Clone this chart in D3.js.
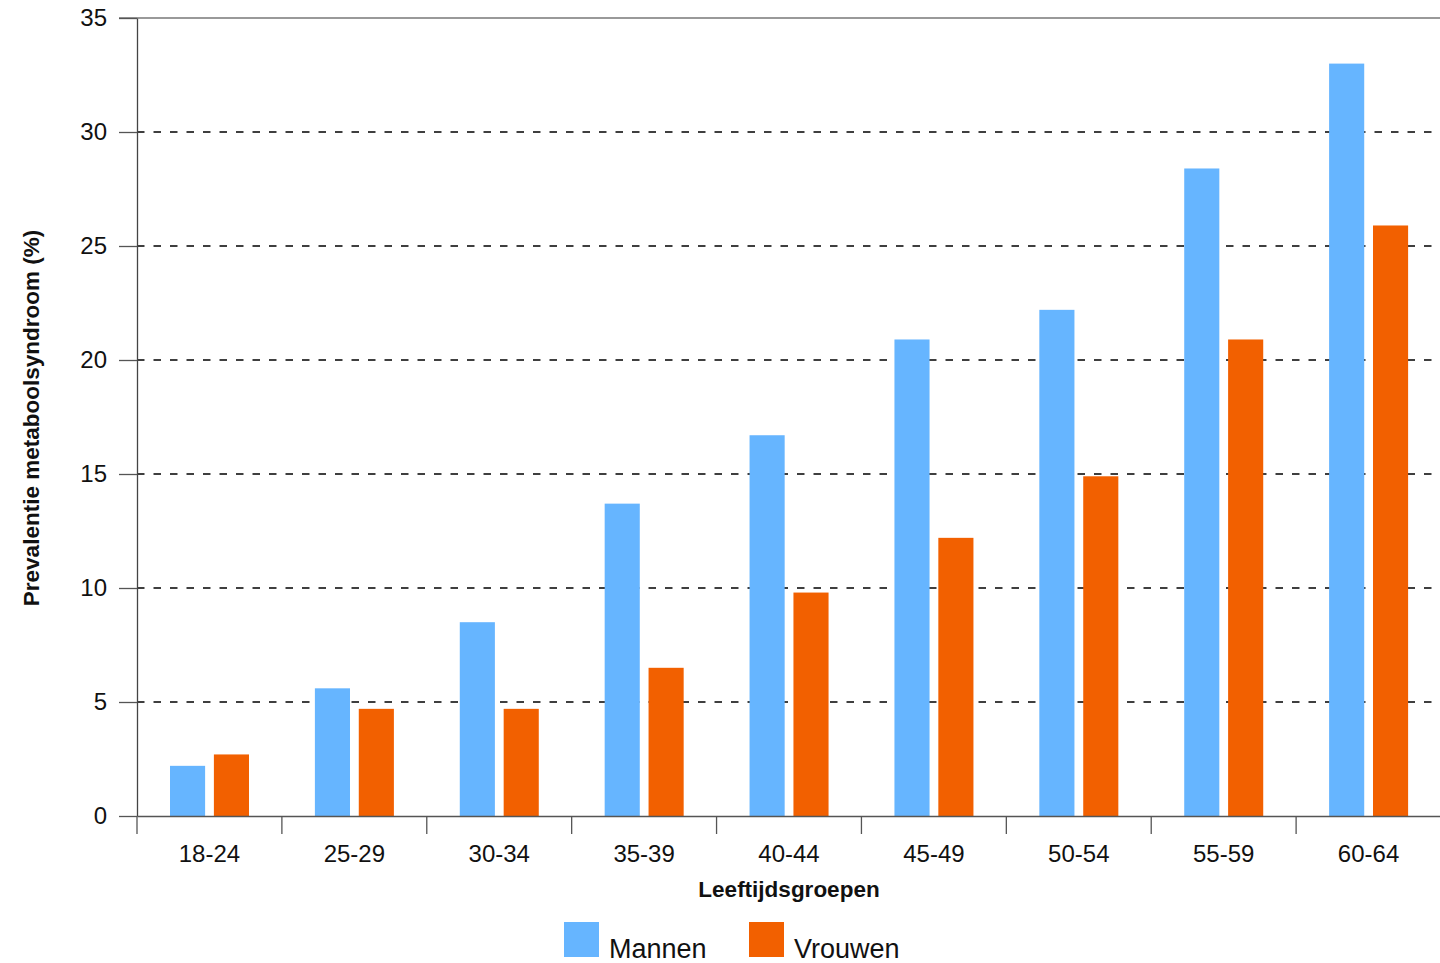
<!DOCTYPE html>
<html>
<head>
<meta charset="utf-8">
<script src="https://cdn.jsdelivr.net/npm/d3@7.9.0/dist/d3.min.js"></script>
<style>
  html, body { margin: 0; padding: 0; background: #fff; }
  svg { display: block; font-family: "Liberation Sans", Arial, sans-serif; }
</style>
</head>
<body>
<svg id="chart" width="1440" height="963"></svg>
<script>
const ageGroups = ['18-24', '25-29', '30-34', '35-39', '40-44', '45-49', '50-54', '55-59', '60-64'];
const mannen = [2.2, 5.6, 8.5, 13.7, 16.7, 20.9, 22.2, 28.4, 33.0];
const vrouwen = [2.7, 4.7, 4.7, 6.5, 9.8, 12.2, 14.9, 20.9, 25.9];
const seriesNames = ['Mannen', 'Vrouwen'];
const colors = ['#66b5ff', '#f26000'];
const yTicks = [0, 5, 10, 15, 20, 25, 30, 35];

const svg = d3.select('#chart');
const plotLeft = 137, plotRight = 1441, plotTop = 18, plotBottom = 816;

const x = d3.scaleBand().domain(ageGroups).range([plotLeft, plotRight]);
const xSub = d3.scaleBand().domain(seriesNames).range([33, 112]).paddingInner(0.2);
const y = d3.scaleLinear().domain([0, 35]).range([plotBottom, plotTop]);

// dashed gridlines
svg.append('g')
  .selectAll('line')
  .data(yTicks.filter((d) => d > 0 && d < 35))
  .join('line')
  .attr('x1', plotLeft).attr('x2', plotRight)
  .attr('y1', (d) => y(d)).attr('y2', (d) => y(d))
  .attr('stroke', '#000').attr('stroke-width', 1.3)
  .attr('stroke-dasharray', '7.5,9');

// top line
svg.append('line')
  .attr('x1', 119).attr('x2', plotRight)
  .attr('y1', y(35)).attr('y2', y(35))
  .attr('stroke', '#777').attr('stroke-width', 1.6);

// bars
const data = ageGroups.map((g, i) => ({ group: g, values: [mannen[i], vrouwen[i]] }));
svg.append('g')
  .selectAll('g')
  .data(data)
  .join('g')
  .attr('transform', (d) => `translate(${x(d.group)},0)`)
  .selectAll('rect')
  .data((d) => d.values.map((v, j) => ({ name: seriesNames[j], value: v, color: colors[j] })))
  .join('rect')
  .attr('x', (d) => xSub(d.name))
  .attr('width', xSub.bandwidth())
  .attr('y', (d) => y(d.value))
  .attr('height', (d) => y(0) - y(d.value))
  .attr('fill', (d) => d.color);

// y axis
const yAxis = svg.append('g')
  .attr('transform', `translate(${plotLeft},0)`)
  .call(d3.axisLeft(y).tickValues(yTicks).tickSize(18).tickPadding(12).tickSizeOuter(0));
yAxis.select('.domain').attr('stroke', '#444').attr('stroke-width', 1.3);
yAxis.selectAll('.tick line').attr('stroke', '#555').attr('stroke-width', 1.3);
yAxis.selectAll('.tick text').attr('font-size', 24).attr('fill', '#111');

// x axis
const xAxis = svg.append('g')
  .attr('transform', `translate(0,${plotBottom})`)
  .call(d3.axisBottom(x).tickSize(0).tickPadding(29));
xAxis.select('.domain').attr('stroke', '#555').attr('stroke-width', 1.3);
xAxis.selectAll('.tick text').attr('font-size', 24).attr('fill', '#111');

// category separator ticks
svg.append('g')
  .selectAll('line')
  .data(ageGroups)
  .join('line')
  .attr('x1', (d) => x(d)).attr('x2', (d) => x(d))
  .attr('y1', plotBottom).attr('y2', plotBottom + 18)
  .attr('stroke', '#555').attr('stroke-width', 1.3);

// axis titles
svg.append('text')
  .attr('x', 789).attr('y', 897)
  .attr('text-anchor', 'middle')
  .attr('font-size', 22.5).attr('font-weight', 'bold').attr('fill', '#111')
  .text('Leeftijdsgroepen');

svg.append('text')
  .attr('transform', 'translate(39,418) rotate(-90)')
  .attr('text-anchor', 'middle')
  .attr('font-size', 22.5).attr('font-weight', 'bold').attr('fill', '#111')
  .text('Prevalentie metaboolsyndroom (%)');

// legend
const legend = svg.append('g')
  .selectAll('g')
  .data(seriesNames)
  .join('g')
  .attr('transform', (d, i) => `translate(${564 + i * 185},922)`);
legend.append('rect')
  .attr('width', 35).attr('height', 35)
  .attr('fill', (d, i) => colors[i]);
legend.append('text')
  .attr('x', 45).attr('y', 36)
  .attr('font-size', 27).attr('fill', '#111')
  .text((d) => d);
</script>
</body>
</html>
